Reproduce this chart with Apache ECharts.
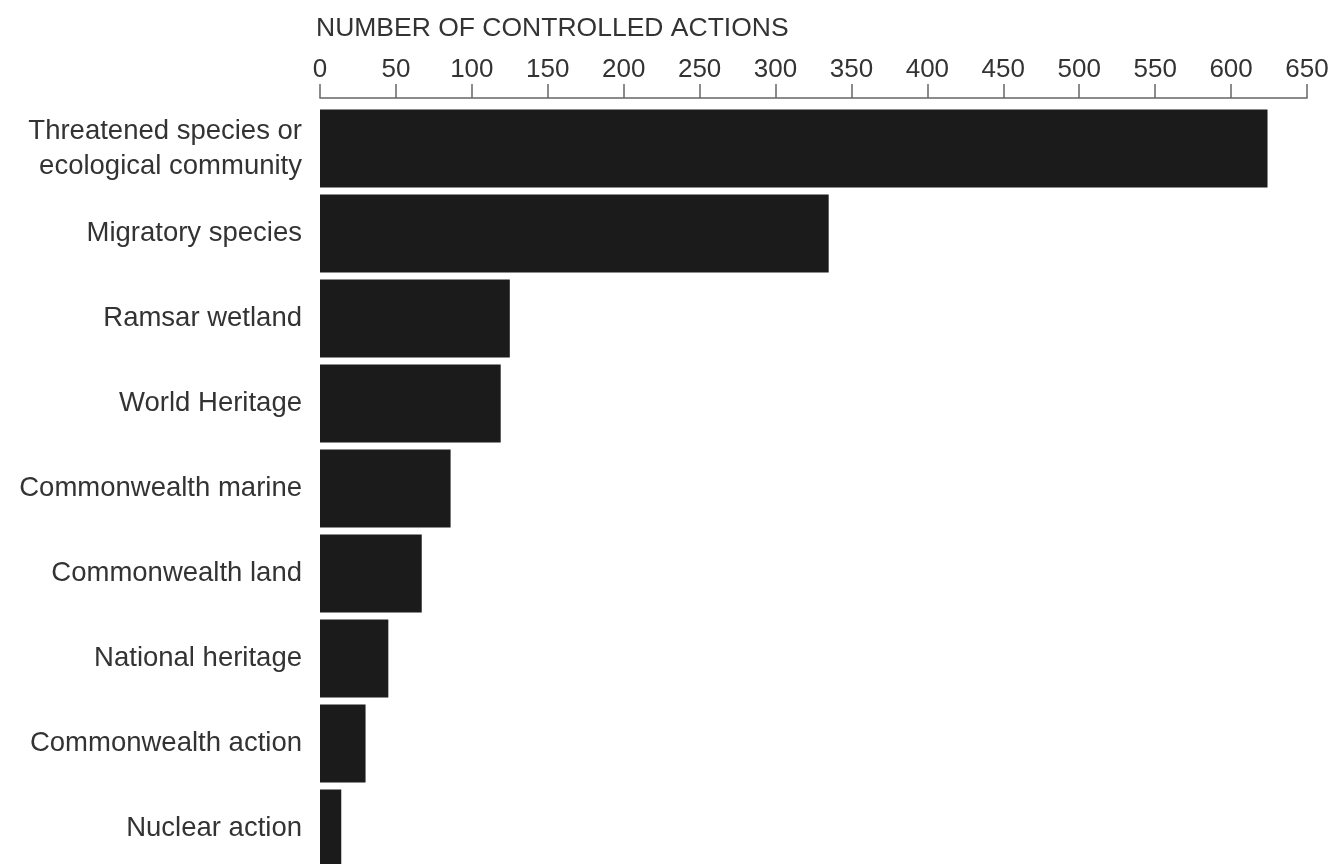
<!DOCTYPE html>
<html>
<head>
<meta charset="utf-8">
<script src="https://cdn.jsdelivr.net/npm/echarts@6/dist/echarts.min.js"></script>
<style>
  html, body { margin: 0; padding: 0; background: #fff; }
  #main { width: 1337px; height: 864px; }
</style>
</head>
<body>
<div id="main"></div>
<script>
// protected matters, number of controlled actions
var categories = [
  "Threatened species or\necological community",
  "Migratory species",
  "Ramsar wetland",
  "World Heritage",
  "Commonwealth marine",
  "Commonwealth land",
  "National heritage",
  "Commonwealth action",
  "Nuclear action"
]
var actionCounts = [624, 335, 125, 119, 86, 67, 45, 30, 14]
var xTicks = { min: 0, max: 650, step: 50 }

var fontFam = "'Liberation Sans', Arial, Helvetica, sans-serif"
var chart = echarts.init(document.getElementById("main"))

var option = {
  animation: false,
  backgroundColor: "#fff",
  title: {
    text: "NUMBER OF CONTROLLED ACTIONS",
    left: 316,
    top: 15,
    padding: 0,
    textStyle: { fontFamily: fontFam, fontSize: 26.5, fontWeight: "normal", color: "#333" }
  },
  grid: {
    left: 320,
    right: 30,
    top: 106,
    height: 765,
    containLabel: false,
    outerBoundsMode: "none"
  },
  xAxis: {
    type: "value",
    position: "top",
    offset: 8,
    min: xTicks.min,
    max: xTicks.max,
    interval: xTicks.step,
    splitLine: { show: false },
    axisLine: { show: true, lineStyle: { color: "#666", width: 1.5 } },
    axisTick: { show: true, length: 14, lineStyle: { color: "#666", width: 1.5 } },
    axisLabel: {
      margin: 15,
      fontFamily: fontFam,
      fontSize: 26,
      color: "#333"
    }
  },
  yAxis: {
    type: "category",
    inverse: true,
    data: categories,
    axisLine: { show: false },
    axisTick: { show: false },
    axisLabel: {
      margin: 18,
      fontFamily: fontFam,
      fontSize: 27.5,
      lineHeight: 35,
      color: "#333",
      align: "right"
    }
  },
  series: [
    {
      type: "bar",
      data: actionCounts,
      barWidth: 78,
      itemStyle: { color: "#1b1b1b" }
    }
  ]
}

chart.setOption(option)
</script>
</body>
</html>
